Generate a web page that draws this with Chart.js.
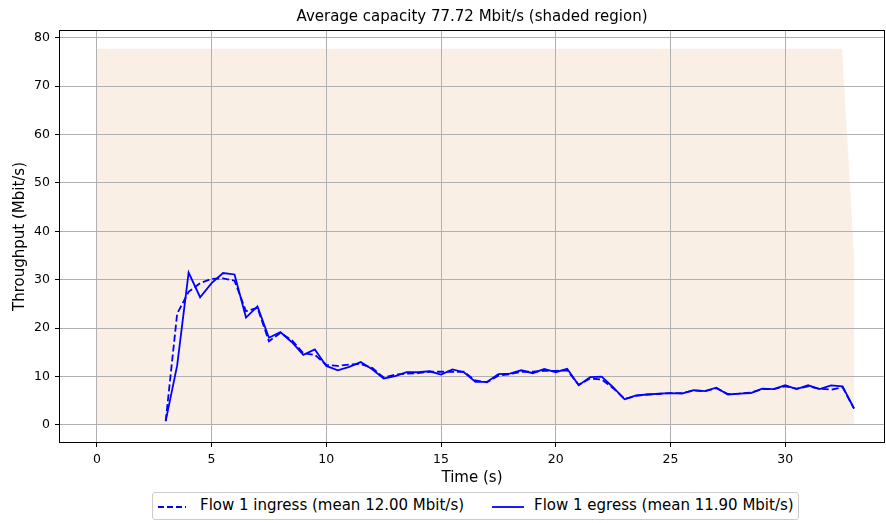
<!DOCTYPE html>
<html>
<head>
<meta charset="utf-8">
<script src="https://cdn.jsdelivr.net/npm/chart.js@4"></script>
<style>
  body { margin: 0; background: #fff; }
  #wrap { position: relative; width: 886px; height: 523px; }
  #legend {
    position: absolute; left: 152px; top: 492px; width: 645px; height: 26px;
    border: 1px solid #cccccc; border-radius: 3px; background: #fff;
    font-family: 'DejaVu Sans', sans-serif; font-size: 15px; color: #000;
  }
  #legend svg { position: absolute; top: 12px; }
  #legend span { position: absolute; top: 3px; white-space: nowrap; }
</style>
</head>
<body>
<div id="wrap">
  <canvas id="chart" width="886" height="523"></canvas>
  <div id="legend">
    <svg style="left:5px" width="28" height="4"><line x1="0" y1="2" x2="28" y2="2" stroke="#0000ff" stroke-width="1.8" stroke-dasharray="6 3"/></svg>
    <span id="lg-in" style="left:47px"></span>
    <svg style="left:339px" width="32" height="4"><line x1="0" y1="2" x2="32" y2="2" stroke="#0000ff" stroke-width="1.8"/></svg>
    <span id="lg-out" style="left:381px"></span>
  </div>
</div>
<script>
const titleText = 'Average capacity 77.72 Mbit/s (shaded region)';
const ingressLabel = 'Flow 1 ingress (mean 12.00 Mbit/s)';
const egressLabel = 'Flow 1 egress (mean 11.90 Mbit/s)';

const times = [3.0, 3.5, 4.0, 4.5, 5.0, 5.5, 6.0, 6.5, 7.0, 7.5, 8.0, 8.5, 9.0, 9.5,
  10.0, 10.5, 11.0, 11.5, 12.0, 12.5, 13.0, 13.5, 14.0, 14.5, 15.0, 15.5, 16.0, 16.5,
  17.0, 17.5, 18.0, 18.5, 19.0, 19.5, 20.0, 20.5, 21.0, 21.5, 22.0, 22.5, 23.0, 23.5,
  24.0, 24.5, 25.0, 25.5, 26.0, 26.5, 27.0, 27.5, 28.0, 28.5, 29.0, 29.5, 30.0, 30.5,
  31.0, 31.5, 32.0, 32.5, 33.0];

const ingress = [0.8, 23.0, 27.5, 29.3, 30.2, 30.3, 29.8, 23.5, 24.2, 17.3, 19.0, 17.5, 14.8, 14.5,
  12.4, 12.2, 12.5, 12.6, 11.8, 9.8, 10.4, 10.6, 10.7, 11.0, 11.0, 11.0, 11.0, 9.2,
  8.8, 10.2, 10.5, 11.0, 11.0, 11.2, 11.2, 11.3, 8.3, 9.6, 9.4, 7.6, 5.4, 6.0,
  6.3, 6.4, 6.6, 6.6, 7.1, 7.0, 7.6, 6.4, 6.5, 6.7, 7.4, 7.4, 8.0, 7.5,
  8.0, 7.5, 7.3, 7.8, 3.4];

const egress = [0.8, 12.3, 31.5, 26.4, 29.3, 31.4, 31.1, 22.2, 24.5, 18.0, 19.2, 17.1, 14.5, 15.6,
  12.2, 11.3, 12.0, 13.0, 11.5, 9.6, 10.1, 10.9, 10.9, 11.1, 10.4, 11.5, 10.9, 8.9,
  8.9, 10.5, 10.6, 11.3, 10.7, 11.6, 10.9, 11.6, 8.2, 9.9, 10.0, 7.8, 5.3, 6.1,
  6.3, 6.5, 6.6, 6.5, 7.2, 7.0, 7.7, 6.3, 6.5, 6.6, 7.5, 7.4, 8.2, 7.4,
  8.2, 7.4, 8.2, 8.0, 3.4];

const capacityTimes = [0, 32.48, 33.0];
const capacity = [77.72, 77.72, 35.0];

const xTicks = [0, 5, 10, 15, 20, 25, 30];
const yTicks = [0, 10, 20, 30, 40, 50, 60, 70, 80];

document.getElementById('lg-in').textContent = ingressLabel;
document.getElementById('lg-out').textContent = egressLabel;

function toPoints(xs, ys) {
  return xs.map((x, i) => ({ x: x, y: ys[i] }));
}

Chart.defaults.font.family = "'DejaVu Sans', sans-serif";
Chart.defaults.color = '#000';

// grid sits above the shaded region but below the flow lines
const gridOverFill = {
  id: 'gridOverFill',
  afterDatasetDraw(chart, args) {
    if (args.index !== 2) return;
    const ctx = chart.ctx;
    ctx.save();
    chart.scales.x.drawGrid(chart.chartArea);
    chart.scales.y.drawGrid(chart.chartArea);
    ctx.restore();
  }
};

const frame = {
  id: 'frame',
  afterDraw(chart) {
    const a = chart.chartArea;
    const ctx = chart.ctx;
    ctx.save();
    ctx.strokeStyle = '#000';
    ctx.lineWidth = 1;
    ctx.strokeRect(Math.round(a.left) + 0.5, Math.round(a.top) + 0.5,
      Math.round(a.right - a.left) - 1, Math.round(a.bottom - a.top) - 1);
    ctx.restore();
  }
};

const gridOpts = { color: '#b0b0b0', lineWidth: 1, tickColor: '#000', tickLength: 4, tickWidth: 1 };

new Chart(document.getElementById('chart'), {
  type: 'line',
  data: {
    datasets: [
      {
        label: ingressLabel,
        data: toPoints(times, ingress),
        borderColor: '#0000ff',
        borderWidth: 1.8,
        borderDash: [7, 3],
        pointRadius: 0,
        fill: false,
        order: 1
      },
      {
        label: egressLabel,
        data: toPoints(times, egress),
        borderColor: '#0000ff',
        borderWidth: 1.8,
        pointRadius: 0,
        fill: false,
        order: 0
      },
      {
        label: 'capacity',
        data: toPoints(capacityTimes, capacity),
        borderWidth: 0,
        borderColor: 'rgba(0,0,0,0)',
        backgroundColor: '#faefe5',
        pointRadius: 0,
        fill: 'origin',
        order: 5
      }
    ]
  },
  options: {
    responsive: false,
    animation: false,
    layout: { padding: { left: 0, right: 1, top: 0, bottom: 35 } },
    plugins: {
      legend: { display: false },
      tooltip: { enabled: false },
      title: {
        display: true,
        fullSize: false,
        text: titleText,
        font: { size: 15, weight: 'normal' },
        color: '#000',
        padding: { top: 8, bottom: 4 }
      }
    },
    scales: {
      x: {
        type: 'linear',
        min: -1.65,
        max: 34.35,
        grid: gridOpts,
        border: { display: false },
        ticks: { font: { size: 12.5 }, padding: 5, maxRotation: 0 },
        afterBuildTicks: s => { s.ticks = xTicks.map(v => ({ value: v })); },
        afterFit: s => { s.height = 45; },
        title: { display: true, text: 'Time (s)', font: { size: 15 }, padding: { top: 0, bottom: 1 } }
      },
      y: {
        type: 'linear',
        min: -3.72,
        max: 81.6,
        grid: gridOpts,
        border: { display: false },
        ticks: { font: { size: 12.5 }, padding: 5 },
        afterBuildTicks: s => { s.ticks = yTicks.map(v => ({ value: v })); },
        afterFit: s => { s.width = 59; },
        title: { display: true, text: 'Throughput (Mbit/s)', font: { size: 15 }, padding: { top: 11, bottom: 0 } }
      }
    }
  },
  plugins: [gridOverFill, frame]
});
</script>
</body>
</html>
